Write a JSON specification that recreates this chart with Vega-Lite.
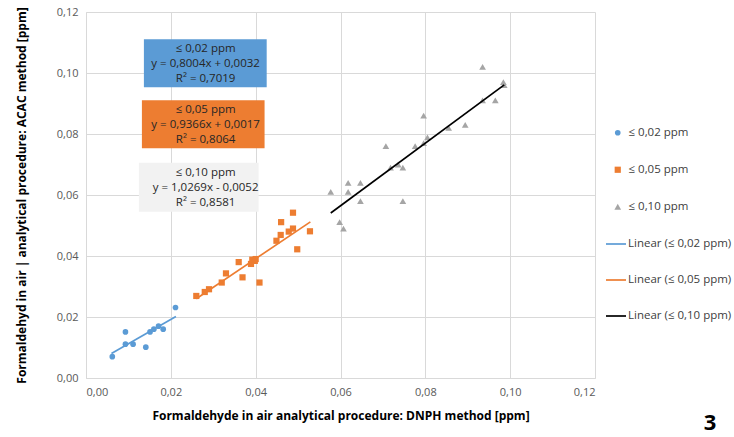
{
  "$schema": "https://vega.github.io/schema/vega-lite/v6.json",
  "width": 509,
  "height": 366,
  "autosize": {"type": "none"},
  "padding": {"left": 86, "top": 12, "right": 139, "bottom": 59},
  "background": "white",
  "config": {
    "font": "Open Sans",
    "view": {"stroke": null},
    "axis": {
      "grid": true,
      "gridColor": "#d9d9d9",
      "gridWidth": 1,
      "domainColor": "#d9d9d9",
      "ticks": false,
      "labelFont": "Open Sans",
      "labelFontSize": 11,
      "labelColor": "#595959",
      "titleFont": "Open Sans",
      "titleFontSize": 12,
      "titleFontWeight": "bold",
      "titleColor": "#000000"
    },
    "legend": {
      "labelFont": "Open Sans",
      "labelFontSize": 11.5,
      "labelColor": "#404040",
      "padding": 0
    }
  },
  "datasets": {
    "points": [
      {"series": "≤ 0,02 ppm", "x": 0.0062, "y": 0.0070},
      {"series": "≤ 0,02 ppm", "x": 0.0093, "y": 0.0151},
      {"series": "≤ 0,02 ppm", "x": 0.0093, "y": 0.0111},
      {"series": "≤ 0,02 ppm", "x": 0.0111, "y": 0.0111},
      {"series": "≤ 0,02 ppm", "x": 0.0141, "y": 0.0101},
      {"series": "≤ 0,02 ppm", "x": 0.0151, "y": 0.0151},
      {"series": "≤ 0,02 ppm", "x": 0.0160, "y": 0.0160},
      {"series": "≤ 0,02 ppm", "x": 0.0171, "y": 0.0170},
      {"series": "≤ 0,02 ppm", "x": 0.0182, "y": 0.0160},
      {"series": "≤ 0,02 ppm", "x": 0.0211, "y": 0.0231},
      {"series": "≤ 0,05 ppm", "x": 0.0260, "y": 0.0269},
      {"series": "≤ 0,05 ppm", "x": 0.0280, "y": 0.0282},
      {"series": "≤ 0,05 ppm", "x": 0.0290, "y": 0.0291},
      {"series": "≤ 0,05 ppm", "x": 0.0320, "y": 0.0313},
      {"series": "≤ 0,05 ppm", "x": 0.0330, "y": 0.0343},
      {"series": "≤ 0,05 ppm", "x": 0.0360, "y": 0.0380},
      {"series": "≤ 0,05 ppm", "x": 0.0369, "y": 0.0330},
      {"series": "≤ 0,05 ppm", "x": 0.0389, "y": 0.0374},
      {"series": "≤ 0,05 ppm", "x": 0.0392, "y": 0.0388},
      {"series": "≤ 0,05 ppm", "x": 0.0398, "y": 0.0384},
      {"series": "≤ 0,05 ppm", "x": 0.0400, "y": 0.0390},
      {"series": "≤ 0,05 ppm", "x": 0.0409, "y": 0.0313},
      {"series": "≤ 0,05 ppm", "x": 0.0449, "y": 0.0450},
      {"series": "≤ 0,05 ppm", "x": 0.0459, "y": 0.0469},
      {"series": "≤ 0,05 ppm", "x": 0.0460, "y": 0.0511},
      {"series": "≤ 0,05 ppm", "x": 0.0478, "y": 0.0480},
      {"series": "≤ 0,05 ppm", "x": 0.0488, "y": 0.0490},
      {"series": "≤ 0,05 ppm", "x": 0.0488, "y": 0.0542},
      {"series": "≤ 0,05 ppm", "x": 0.0498, "y": 0.0422},
      {"series": "≤ 0,05 ppm", "x": 0.0528, "y": 0.0481},
      {"series": "≤ 0,10 ppm", "x": 0.0577, "y": 0.0610},
      {"series": "≤ 0,10 ppm", "x": 0.0598, "y": 0.0511},
      {"series": "≤ 0,10 ppm", "x": 0.0607, "y": 0.0490},
      {"series": "≤ 0,10 ppm", "x": 0.0618, "y": 0.0640},
      {"series": "≤ 0,10 ppm", "x": 0.0618, "y": 0.0610},
      {"series": "≤ 0,10 ppm", "x": 0.0647, "y": 0.0640},
      {"series": "≤ 0,10 ppm", "x": 0.0647, "y": 0.0580},
      {"series": "≤ 0,10 ppm", "x": 0.0707, "y": 0.0760},
      {"series": "≤ 0,10 ppm", "x": 0.0718, "y": 0.0690},
      {"series": "≤ 0,10 ppm", "x": 0.0736, "y": 0.0700},
      {"series": "≤ 0,10 ppm", "x": 0.0747, "y": 0.0690},
      {"series": "≤ 0,10 ppm", "x": 0.0747, "y": 0.0580},
      {"series": "≤ 0,10 ppm", "x": 0.0776, "y": 0.0760},
      {"series": "≤ 0,10 ppm", "x": 0.0796, "y": 0.0860},
      {"series": "≤ 0,10 ppm", "x": 0.0796, "y": 0.0770},
      {"series": "≤ 0,10 ppm", "x": 0.0805, "y": 0.0789},
      {"series": "≤ 0,10 ppm", "x": 0.0855, "y": 0.0820},
      {"series": "≤ 0,10 ppm", "x": 0.0894, "y": 0.0830},
      {"series": "≤ 0,10 ppm", "x": 0.0935, "y": 0.1020},
      {"series": "≤ 0,10 ppm", "x": 0.0935, "y": 0.0910},
      {"series": "≤ 0,10 ppm", "x": 0.0965, "y": 0.0910},
      {"series": "≤ 0,10 ppm", "x": 0.0984, "y": 0.0970},
      {"series": "≤ 0,10 ppm", "x": 0.0986, "y": 0.0960}
    ],
    "trends": [
      {"trend": "Linear (≤ 0,02 ppm)", "x": 0.0060, "y": 0.0080},
      {"trend": "Linear (≤ 0,02 ppm)", "x": 0.0212, "y": 0.0202},
      {"trend": "Linear (≤ 0,05 ppm)", "x": 0.0260, "y": 0.0260},
      {"trend": "Linear (≤ 0,05 ppm)", "x": 0.0529, "y": 0.0512},
      {"trend": "Linear (≤ 0,10 ppm)", "x": 0.0577, "y": 0.0541},
      {"trend": "Linear (≤ 0,10 ppm)", "x": 0.0986, "y": 0.0961}
    ],
    "boxes": [
      {"label": "blue", "lines": ["≤ 0,02 ppm", "y = 0,8004x + 0,0032", "R² = 0,7019"], "x1": 0.01365, "x2": 0.0426, "y1": 0.1111, "y2": 0.0953, "ty": 0.1079},
      {"label": "orange", "lines": ["≤ 0,05 ppm", "y = 0,9366x + 0,0017", "R² = 0,8064"], "x1": 0.01318, "x2": 0.0421, "y1": 0.0911, "y2": 0.0753, "ty": 0.0879},
      {"label": "grey", "lines": ["≤ 0,10 ppm", "y = 1,0269x - 0,0052", "R² = 0,8581"], "x1": 0.01247, "x2": 0.0407, "y1": 0.0706, "y2": 0.0545, "ty": 0.0672}
    ]
  },
  "layer": [
    {
      "data": {"name": "boxes"},
      "mark": {"type": "rect"},
      "encoding": {
        "x": {"field": "x1", "type": "quantitative", "scale": {"domain": [0, 0.12], "nice": false, "zero": true},
          "axis": {"values": [0, 0.02, 0.04, 0.06, 0.08, 0.1, 0.12], "labelExpr": "replace(format(datum.value, '.2f'), '.', ',')", "labelPadding": 8, "titlePadding": 13},
          "title": "Formaldehyde in air analytical procedure: DNPH method [ppm]"},
        "x2": {"field": "x2"},
        "y": {"field": "y1", "type": "quantitative", "scale": {"domain": [0, 0.12], "nice": false},
          "axis": {"values": [0, 0.02, 0.04, 0.06, 0.08, 0.1, 0.12], "labelExpr": "replace(format(datum.value, '.2f'), '.', ',')", "labelPadding": 8, "titlePadding": 28},
          "title": "Formaldehyd in air | analytical procedure:  ACAC method [ppm]"},
        "y2": {"field": "y2"},
        "fill": {"field": "label", "type": "nominal", "scale": {"domain": ["blue", "orange", "grey"], "range": ["#5b9bd5", "#ed7d31", "#f2f2f2"]}, "legend": null}
      }
    },
    {
      "data": {"name": "boxes"},
      "mark": {"type": "text", "fontSize": 11.5, "color": "#262626", "align": "center", "baseline": "middle", "lineHeight": 15, "font": "Open Sans"},
      "encoding": {
        "x": {"datum": 0.0282, "type": "quantitative"},
        "y": {"field": "ty", "type": "quantitative"},
        "text": {"field": "lines"}
      }
    },
    {
      "data": {"name": "points"},
      "mark": {"type": "point", "filled": true, "opacity": 1},
      "encoding": {
        "x": {"field": "x", "type": "quantitative"},
        "y": {"field": "y", "type": "quantitative"},
        "color": {"field": "series", "type": "nominal",
          "scale": {"domain": ["≤ 0,02 ppm", "≤ 0,05 ppm", "≤ 0,10 ppm"], "range": ["#5b9bd5", "#ed7d31", "#a5a5a5"]},
          "legend": {"title": null, "orient": "none", "legendX": 526, "legendY": 115, "rowPadding": 24, "labelOffset": 5, "symbolSize": 30}},
        "shape": {"field": "series", "type": "nominal",
          "scale": {"domain": ["≤ 0,02 ppm", "≤ 0,05 ppm", "≤ 0,10 ppm"], "range": ["circle", "square", "triangle-up"]},
          "legend": {"title": null, "orient": "none", "legendX": 526, "legendY": 115, "rowPadding": 24, "labelOffset": 5, "symbolSize": 30}},
        "size": {"field": "series", "type": "nominal",
          "scale": {"domain": ["≤ 0,02 ppm", "≤ 0,05 ppm", "≤ 0,10 ppm"], "range": [32, 45, 40]}, "legend": null}
      }
    },
    {
      "data": {"name": "trends"},
      "mark": {"type": "line"},
      "encoding": {
        "x": {"field": "x", "type": "quantitative"},
        "y": {"field": "y", "type": "quantitative"},
        "detail": {"field": "trend"},
        "stroke": {"field": "trend", "type": "nominal",
          "scale": {"domain": ["Linear (≤ 0,02 ppm)", "Linear (≤ 0,05 ppm)", "Linear (≤ 0,10 ppm)"], "range": ["#5b9bd5", "#ed7d31", "#000000"]},
          "legend": {"title": null, "orient": "none", "legendX": 519, "legendY": 221, "rowPadding": 19, "labelOffset": 1, "symbolType": "stroke", "symbolSize": 400, "symbolStrokeWidth": 2}},
        "strokeWidth": {"field": "trend", "type": "nominal",
          "scale": {"domain": ["Linear (≤ 0,02 ppm)", "Linear (≤ 0,05 ppm)", "Linear (≤ 0,10 ppm)"], "range": [1.7, 1.7, 2]}, "legend": null}
      }
    },
    {
      "data": {"values": [{"n": "3"}]},
      "mark": {"type": "text", "fontSize": 22, "fontWeight": "bold", "color": "#000000", "align": "center", "baseline": "middle", "dx": 115, "dy": 45, "font": "Open Sans"},
      "encoding": {
        "x": {"datum": 0.12, "type": "quantitative"},
        "y": {"datum": 0, "type": "quantitative"},
        "text": {"field": "n"}
      }
    }
  ]
}
